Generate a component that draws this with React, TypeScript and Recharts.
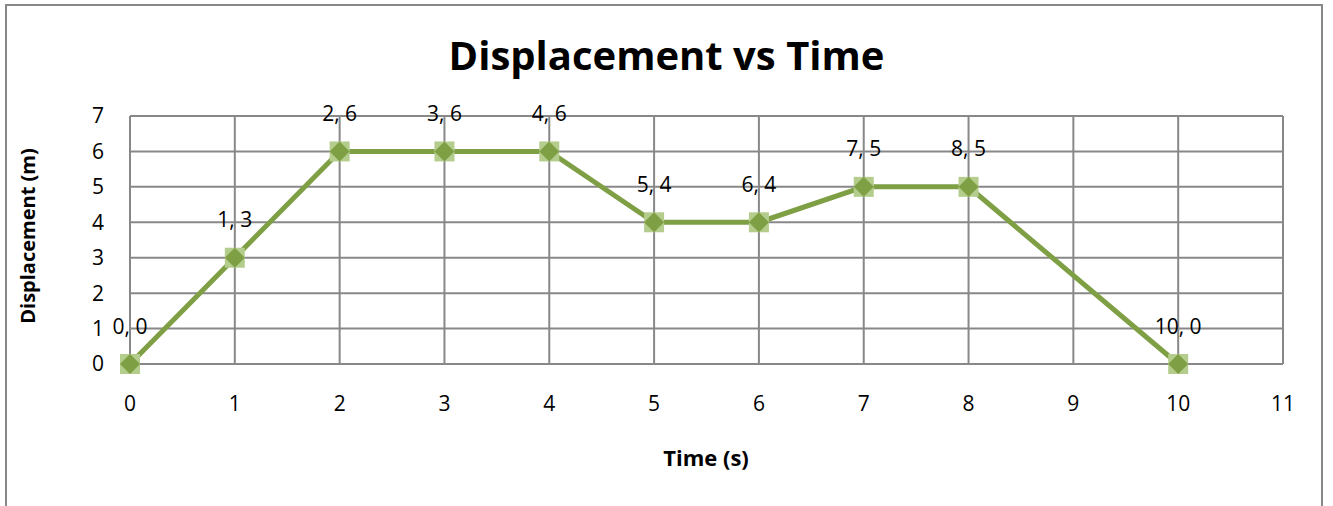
import React from "react";
import {
  LineChart,
  Line,
  XAxis,
  YAxis,
  CartesianGrid,
  LabelList,
} from "recharts";

const times = [0, 1, 2, 3, 4, 5, 6, 7, 8, 10];
const displacement = [0, 3, 6, 6, 6, 4, 4, 5, 5, 0];
const xTicks = [0, 1, 2, 3, 4, 5, 6, 7, 8, 9, 10, 11];
const yTicks = [0, 1, 2, 3, 4, 5, 6, 7];

const FONT = "'Open Sans', 'Noto Sans', sans-serif";

const data = times.map((t, i) => ({ t, d: displacement[i] }));

function Marker(props: any) {
  const { cx, cy } = props;
  if (cx == null || cy == null) return null;
  return (
    <g>
      <rect x={cx - 10} y={cy - 10} width={20} height={20} fill="#b4cd8c" />
      <polygon
        points={`${cx},${cy - 10} ${cx + 10},${cy} ${cx},${cy + 10} ${cx - 10},${cy}`}
        fill="#7f9f45"
      />
    </g>
  );
}

function PointLabel(props: any) {
  const { x, y, index } = props;
  return (
    <text
      x={x}
      y={y - 36}
      textAnchor="middle"
      dominantBaseline="middle"
      fontSize={21}
      fontFamily={FONT}
      fill="#000"
    >
      {`${times[index]}, ${displacement[index]}`}
    </text>
  );
}

export default function App() {
  return (
    <div style={{ position: "absolute", left: 0, top: 0, width: 1333, height: 506, background: "#fff", overflow: "hidden" }}>
      <div
        style={{
          position: "absolute",
          left: 5,
          top: 4,
          width: 1318,
          height: 540,
          border: "2px solid #888",
          boxSizing: "border-box",
        }}
      />
      <div
        style={{
          position: "absolute",
          left: 0,
          top: 27,
          width: 1333,
          textAlign: "center",
          fontFamily: FONT,
          fontWeight: 700,
          fontSize: 40,
          color: "#000",
        }}
      >
        Displacement vs Time
      </div>
      <div style={{ position: "absolute", left: 0, top: 0 }}>
        <LineChart
          width={1333}
          height={506}
          data={data}
          margin={{ top: 116, right: 50, bottom: 112, left: 70 }}
        >
          <CartesianGrid stroke="#888" strokeWidth={2} />
          <XAxis
            dataKey="t"
            type="number"
            domain={[0, 11]}
            ticks={xTicks}
            interval={0}
            axisLine={false}
            tickLine={false}
            tickSize={0}
            tickMargin={32}
            height={30}
            tick={{ fontSize: 21, fill: "#000", fontFamily: FONT }}
          />
          <YAxis
            type="number"
            domain={[0, 7]}
            ticks={yTicks}
            interval={0}
            axisLine={false}
            tickLine={false}
            tickSize={0}
            tickMargin={26}
            width={60}
            tick={{ fontSize: 21, fill: "#000", fontFamily: FONT }}
          />
          <Line
            dataKey="d"
            type="linear"
            stroke="#7f9f45"
            strokeWidth={5}
            dot={<Marker />}
            activeDot={false}
            isAnimationActive={false}
          >
            <LabelList dataKey="d" content={<PointLabel />} />
          </Line>
          <text
            x={706}
            y={460}
            textAnchor="middle"
            dominantBaseline="middle"
            fontSize={22}
            fontWeight={700}
            fontFamily={FONT}
          >
            Time (s)
          </text>
          <text
            x={30}
            y={236}
            textAnchor="middle"
            dominantBaseline="middle"
            fontSize={20}
            fontWeight={700}
            fontFamily={FONT}
            transform="rotate(-90 30 236)"
          >
            Displacement (m)
          </text>
        </LineChart>
      </div>
    </div>
  );
}
